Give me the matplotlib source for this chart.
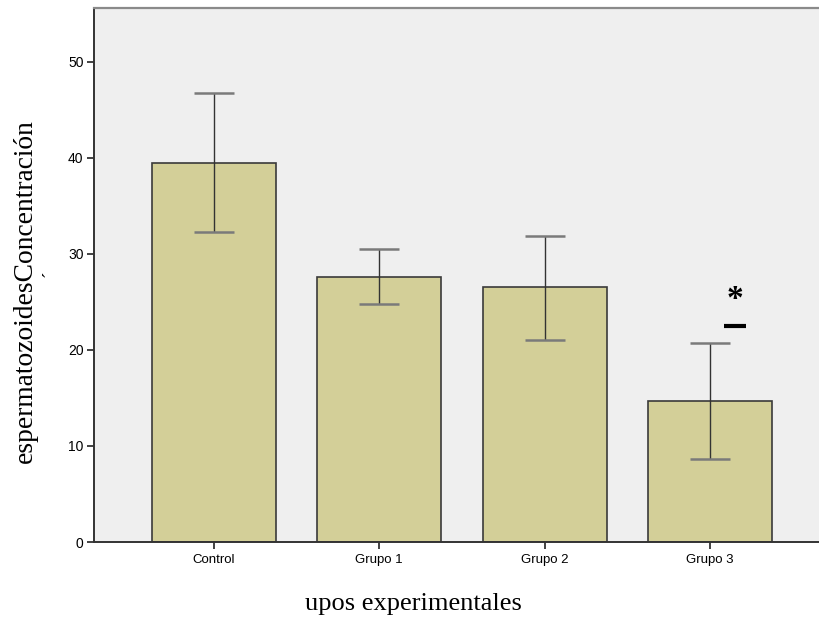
import numpy as np
import matplotlib
matplotlib.use('Agg')
import matplotlib.pyplot as plt

## data ##
grupos = ['Control', 'Grupo 1', 'Grupo 2', 'Grupo 3']
media = [39.5, 27.6, 26.5, 14.7]
ic_sup = [46.7, 30.5, 31.9, 20.7]
ic_inf = [32.3, 24.8, 21.0, 8.6]
yticks = [0, 10, 20, 30, 40, 50]

x = np.arange(len(grupos))
err = [np.array(media) - np.array(ic_inf), np.array(ic_sup) - np.array(media)]

fig = plt.figure(figsize=(8.19, 6.2), dpi=100)
ax = fig.add_axes([94/819, 1 - 542/620, 1 - 94/819, (542 - 8)/620])
ax.set_facecolor('#efefef')

ax.bar(x, media, width=0.75, color='#d3cf98', edgecolor='#3a3a3a', linewidth=1.2, zorder=2)
eb = ax.errorbar(x, media, yerr=err, fmt='none', ecolor='#333333', elinewidth=1,
                 capsize=14.4, capthick=1.8, zorder=3)
for cl in eb[1]:
    cl.set_markeredgecolor('#7a7a7a')

# significance mark over Grupo 3
ax.text(3 + 0.15, 25.2, '*', ha='center', va='center', fontsize=24, fontweight='bold',
        family='Liberation Serif')
ax.plot([3 + 0.085, 3 + 0.218], [22.45, 22.45], color='k', lw=3, solid_capstyle='butt')

ax.set_xlim(-0.726, 3.66)
ax.set_ylim(0, 55.6)
ax.set_xticks(x)
ax.set_xticklabels(grupos, fontsize=9.5, family='Liberation Sans')
ax.set_yticks(yticks)
ax.set_yticklabels([str(v) for v in yticks], fontsize=10, family='Liberation Sans')
ax.tick_params(length=5, width=1.3, color='#333333', pad=2.5)
ax.tick_params(axis='x', pad=3.5)

ax.spines['right'].set_visible(False)
ax.spines['top'].set_color('#8a8a8a')
ax.spines['top'].set_linewidth(1.6)
ax.spines['left'].set_color('#333333')
ax.spines['left'].set_linewidth(1.4)
ax.spines['bottom'].set_color('#333333')
ax.spines['bottom'].set_linewidth(1.4)

fig.text(25/819, 1 - 291/620, 'espermatozoidesConcentración', rotation=90,
         ha='center', va='center', fontsize=19.8, family='Liberation Serif')
fig.text(50/819, 1 - 274/620, '´', rotation=90, ha='center', va='center',
         fontsize=14, family='Liberation Serif')
fig.text(413/819, 1 - 604/620, 'upos experimentales', ha='center', va='center',
         fontsize=19, family='Liberation Serif')

fig.savefig('out.png', dpi=100)
